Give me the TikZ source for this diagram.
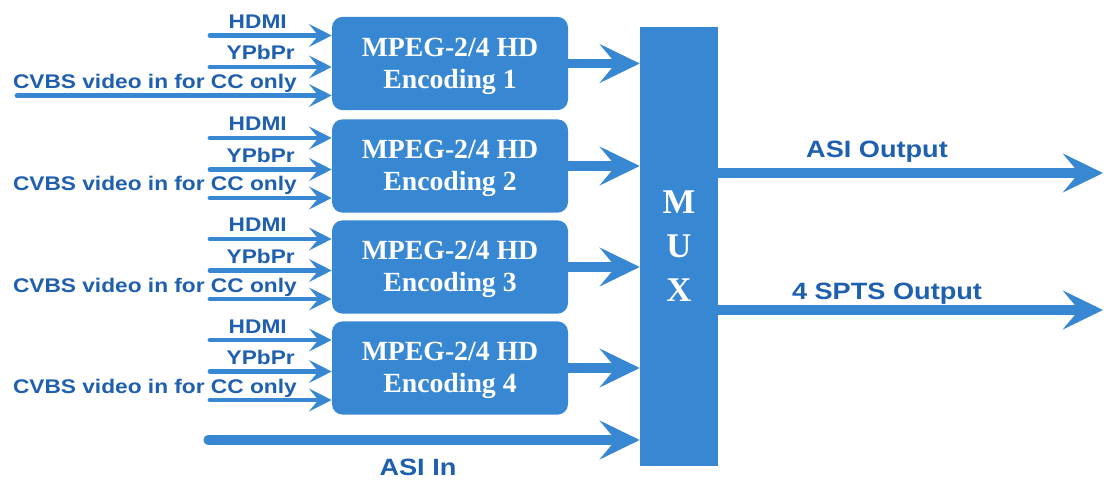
\documentclass[tikz,border=0pt]{standalone}
\usepackage{fontspec}
\usetikzlibrary{arrows.meta,positioning}
\newfontfamily\labelfont[FakeStretch=1.15]{Liberation Sans}
\newfontfamily\boxfont{Liberation Serif}
\definecolor{encblue}{RGB}{55,135,210}
\definecolor{labelblue}{RGB}{30,95,175}
\tikzset{
  enc/.style={fill=encblue, rounded corners=8pt, minimum width=177pt, minimum height=70pt,
    text=white, align=center, font=\boxfont\bfseries\fontsize{20.8}{24}\selectfont},
  muxbox/.style={fill=encblue, minimum width=58.5pt, minimum height=329pt, inner sep=0pt,
    text=white, align=center, font=\boxfont\bfseries\fontsize{26}{33}\selectfont},
  inarrow/.style={draw=encblue, line width=3.6pt, line cap=round,
    -{Stealth[length=17pt,width=17pt,inset=7pt]}},
  bigarrow/.style={draw=encblue, line width=6.8pt, line cap=round,
    -{Stealth[length=30pt,width=29pt,inset=12pt]}},
  inlabel/.style={text=labelblue, font=\labelfont\bfseries\fontsize{14.8}{16}\selectfont,
    anchor=base east, inner sep=0pt},
  outlabel/.style={text=labelblue, font=\labelfont\bfseries\fontsize{17.7}{20}\selectfont,
    anchor=base, inner sep=0pt},
}
\begin{document}
\begin{tikzpicture}[x=0.75pt,y=-0.75pt]
	\useasboundingbox (0,0) rectangle (1104,481);
	
	\node[muxbox] (mux) at (679,246.5) {M\\U\\X};
	
	% the four encoders with their inputs
	\foreach \n/\y/\cx in {1/63.5/17, 2/166/210, 3/267/210, 4/368/210} {
		\node[enc] (e\n) at (450,\y) {};
		\node[text=white, align=center, font=\boxfont\bfseries\fontsize{20.8}{24}\selectfont]
			(t\n) at (450,\y+2.5) {MPEG-2/4 HD\\Encoding \n};
		
		\coordinate (hdmi\n) at (210,\y-28);
		\coordinate (ypbpr\n) at (210,\y+3.5);
		\coordinate (cvbs\n) at (\cx,\y+32);
		
		\draw[inarrow] (hdmi\n) -- (hdmi\n -| e\n.west);
		\draw[inarrow] (ypbpr\n) -- (ypbpr\n -| e\n.west);
		\draw[inarrow] (cvbs\n) -- (cvbs\n -| e\n.west);
		
		\node[inlabel] (lhdmi\n) at (287,\y-35) {HDMI};
		\node[inlabel] (lypbpr\n) at (295,\y-3.5) {YPbPr};
		\node[inlabel] (lcvbs\n) at (297,\y+25) {CVBS video in for CC only};
		
		\draw[bigarrow] (e\n.east) -- (e\n.east -| mux.west);
	}
	
	% ASI in
	\coordinate (asiin) at (208,440);
	\draw[bigarrow] (asiin) -- (asiin -| mux.west);
	\node[outlabel] (lasiin) at (418,475) {ASI In};
	
	% outputs
	\coordinate (asiout) at (1103,173);
	\coordinate (sptsout) at (1103,310);
	\draw[bigarrow] (asiout -| mux.east) -- (asiout);
	\draw[bigarrow] (sptsout -| mux.east) -- (sptsout);
	\node[outlabel] (lasiout) at (877,158) {ASI Output};
	\node[outlabel] (lsptsout) at (887,300) {4 SPTS Output};
\end{tikzpicture}
\end{document}
